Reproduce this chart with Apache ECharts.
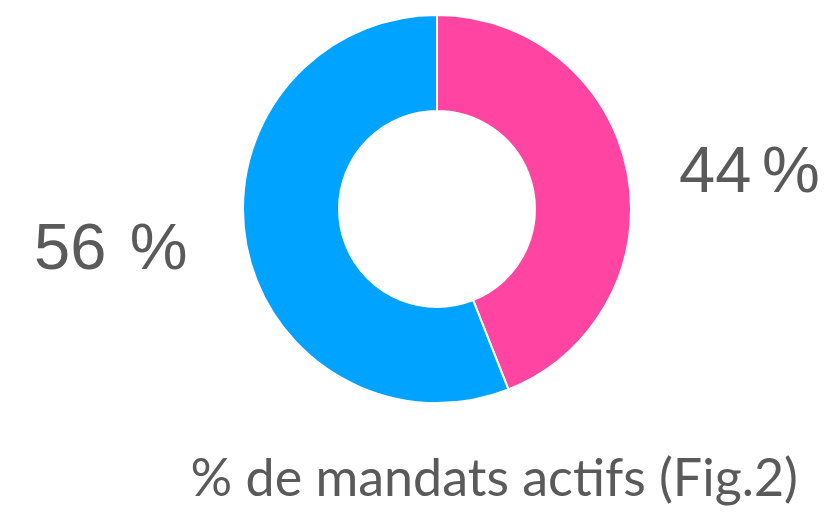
<!DOCTYPE html>
<html>
<head>
<meta charset="utf-8">
<script src="https://cdn.jsdelivr.net/npm/echarts@6/dist/echarts.min.js"></script>
<style>
  html, body { margin: 0; padding: 0; background: #fff; }
  #chart { width: 831px; height: 515px; }
</style>
</head>
<body>
<div id="chart"></div>
<script>
// Share of active mandates, two groups
const categories = ['Femmes', 'Hommes'];
const shares = [44, 56];
const sliceColors = ['#ff44a1', '#00a3ff'];
const titleText = '% de mandats actifs (Fig.2)';
// Gap before the percent sign (narrow for the first label, wide for the second)
const unitSeparators = ['\u2006', ' \u200A'];

// Where each percentage label sits (left edge, vertical middle)
const labelSpots = [
  { x: 679, y: 174 },
  { x: 34, y: 251 }
];

const chart = echarts.init(document.getElementById('chart'), null, { renderer: 'canvas' });

chart.setOption({
  animation: false,
  backgroundColor: '#ffffff',
  title: {
    text: titleText,
    right: 28,
    top: 448,
    textStyle: {
      fontFamily: 'Lato',
      fontWeight: 'normal',
      fontSize: 52,
      color: '#5a5a5a'
    }
  },
  series: [{
    type: 'pie',
    center: [437, 209],
    radius: [98, 194],
    startAngle: 90,
    clockwise: true,
    avoidLabelOverlap: false,
    itemStyle: { borderColor: '#ffffff', borderWidth: 2 },
    label: {
      show: true,
      position: 'outside',
      formatter: p => p.value + unitSeparators[p.dataIndex] + '%',
      fontFamily: 'Liberation Sans',
      fontSize: 65,
      color: '#5a5a5a'
    },
    labelLine: { show: false },
    labelLayout: params => {
      const spot = labelSpots[params.dataIndex];
      return { x: spot.x, y: spot.y, align: 'left', verticalAlign: 'middle' };
    },
    data: categories.map((name, i) => ({
      name,
      value: shares[i],
      itemStyle: { color: sliceColors[i] }
    }))
  }]
});
</script>
</body>
</html>
